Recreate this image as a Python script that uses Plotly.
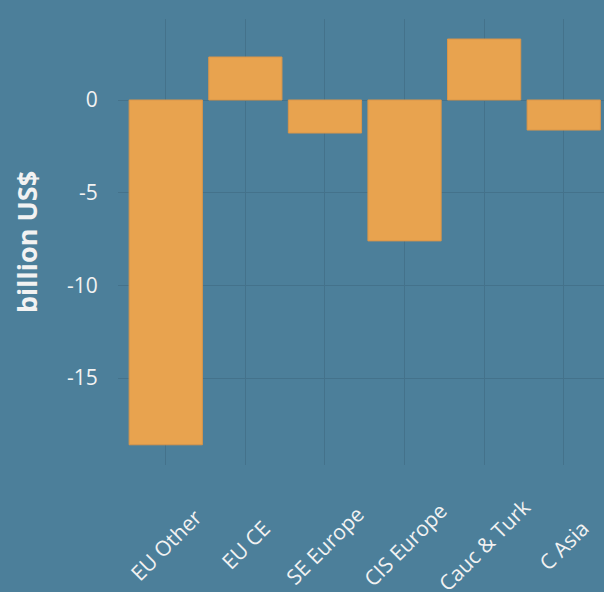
import plotly.graph_objects as go

categories = ["EU Other", "EU CE", "SE Europe", "CIS Europe", "Cauc & Turk", "C Asia"]
values = [-18.6, 2.32, -1.78, -7.6, 3.29, -1.62]
y_ticks = [0, -5, -10, -15]
y_tick_labels = ["0", "-5", "-10", "-15"]

BG = "#4C7F9A"
GRID = "#44728B"
BAR = "#E8A34F"
TXT = "#F2F2F2"
FONT = "Open Sans"

fig = go.Figure()
fig.add_trace(go.Bar(
    x=categories, y=values,
    marker=dict(color=BAR, line=dict(color="#D9964A", width=1)),
    width=0.92,
))

for c in categories:
    fig.add_annotation(
        x=c, y=-0.179, xref="x", yref="paper",
        text=c, textangle=-45, showarrow=False,
        xanchor="center", yanchor="middle",
        font=dict(family=FONT, size=21, color=TXT),
    )

fig.update_layout(
    width=604, height=592,
    margin=dict(l=118, r=0, t=19, b=127),
    paper_bgcolor=BG, plot_bgcolor=BG,
    showlegend=False,
    font=dict(family=FONT, color=TXT),
)
fig.update_xaxes(
    range=[-0.6, 5.506], showticklabels=False,
    showgrid=True, gridcolor=GRID, gridwidth=1,
    zeroline=False, showline=False, ticks="",
)
fig.update_yaxes(
    range=[-19.69, 4.37],
    tickvals=y_ticks, ticktext=y_tick_labels,
    tickfont=dict(family=FONT, size=21, color=TXT),
    showgrid=True, gridcolor=GRID, gridwidth=1,
    zeroline=False, showline=False,
    ticks="outside", ticklen=15, tickcolor="rgba(0,0,0,0)",
    title=dict(text="<b>billion US$</b>", standoff=21,
               font=dict(family=FONT, size=27, color=TXT)),
    automargin=False,
)

fig.write_html(
    "out.html",
    config={"displayModeBar": False},
    post_script="document.body.style.margin='0';document.body.style.padding='0';",
)
